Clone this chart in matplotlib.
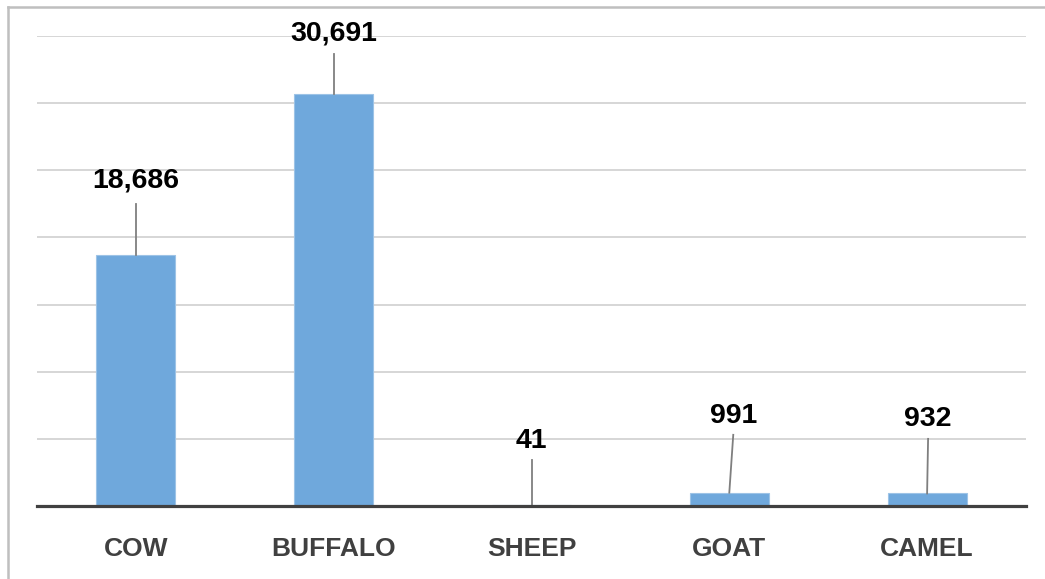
import matplotlib
matplotlib.use("Agg")
import matplotlib.pyplot as plt
from matplotlib.lines import Line2D

categories = ["COW", "BUFFALO", "SHEEP", "GOAT", "CAMEL"]
values = [18686, 30691, 41, 991, 932]
value_labels = ["18,686", "30,691", "41", "991", "932"]
yticks = [0, 5000, 10000, 15000, 20000, 25000, 30000, 35000]

# label layout (data coordinates): baseline y of label text, top of leader line, x offsets
label_baseline = [23700, 34700, 4330, 6190, 5970]
leader_top = [22460, 33650, 3430, 5300, 5000]
label_dx = [0.0, 0.0, 0.0, 0.02, 0.005]

W, H = 1045, 579
fig = plt.figure(figsize=(W / 100, H / 100), dpi=100)
ax = fig.add_axes([37 / W, (H - 506) / H, (1026 - 37) / W, (506 - 36) / H])

x = list(range(len(categories)))
ax.bar(x, values, width=0.4, color="#6FA8DC", edgecolor="#9DC3E6", linewidth=0.8, zorder=3)

ax.set_xlim(-0.5, len(categories) - 0.5)
ax.set_ylim(0, 35000)
ax.set_yticks(yticks)
ax.yaxis.grid(True, color="#cfcfcf", linewidth=1.2, zorder=0)
ax.tick_params(axis="y", left=False, labelleft=False)
ax.tick_params(axis="x", bottom=False, pad=19)
ax.set_xticks(x)
ax.set_xticklabels(categories, fontsize=19, fontweight="bold", color="#404040",
                   family=["Liberation Sans", "DejaVu Sans"])
for s in ["top", "right", "left"]:
    ax.spines[s].set_visible(False)
ax.spines["bottom"].set_color("#404040")
ax.spines["bottom"].set_linewidth(2.3)
ax.spines["bottom"].set_zorder(5)

for i, (v, lab) in enumerate(zip(values, value_labels)):
    lx = i + label_dx[i]
    ax.plot([lx, i], [leader_top[i], v], color="#7f7f7f", linewidth=1.3, zorder=4, clip_on=False)
    ax.text(lx, label_baseline[i], lab, ha="center", va="baseline", fontsize=20.5,
            fontweight="bold", color="black", family=["Liberation Sans", "DejaVu Sans"],
            clip_on=False, zorder=6)

# outer border (left and top visible)
fig.add_artist(Line2D([8 / W, 8 / W], [0, (H - 7) / H], color="#bfbfbf", linewidth=1.8,
                      transform=fig.transFigure))
fig.add_artist(Line2D([8 / W, 1], [(H - 7) / H, (H - 7) / H], color="#bfbfbf", linewidth=1.8,
                      transform=fig.transFigure))

fig.savefig("out.png", dpi=100, facecolor="white")
